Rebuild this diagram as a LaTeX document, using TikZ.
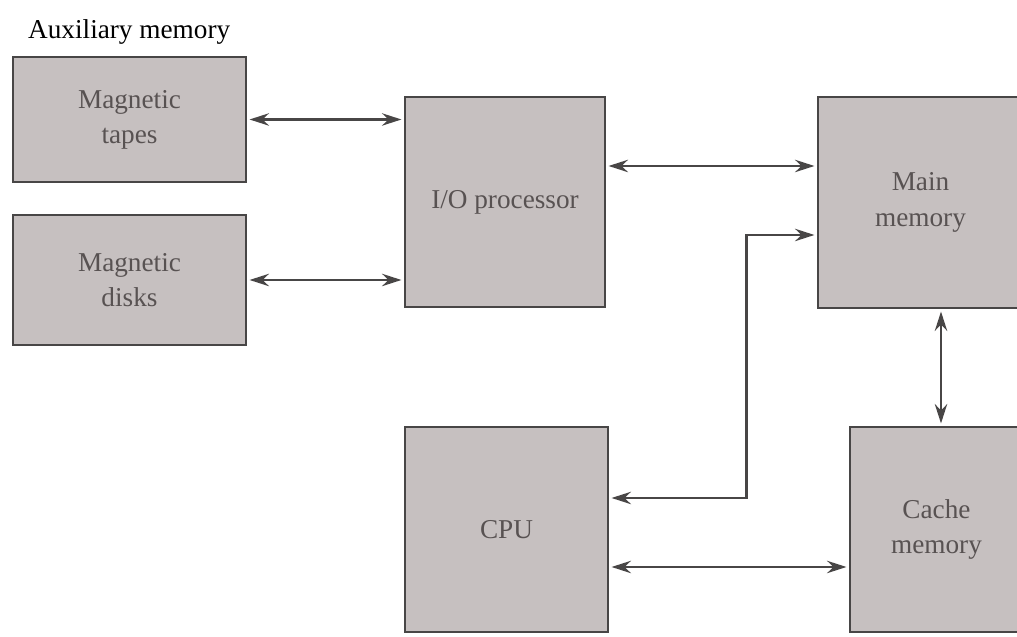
\documentclass[tikz,border=0pt]{standalone}
\usepackage{fontspec}
\setmainfont{Liberation Serif}
\usetikzlibrary{arrows.meta}
\definecolor{boxfill}{RGB}{198,192,192}
\definecolor{boxline}{RGB}{72,70,70}
\definecolor{boxtext}{RGB}{88,82,82}
\begin{document}
\begin{tikzpicture}[every node/.style={font=\fontsize{15.5}{20}\selectfont}, >={Stealth[length=11pt, width=7pt]},
  unit/.style={draw=boxline, fill=boxfill, line width=1.4pt, text=boxtext, align=center, outer sep=2pt},
  link/.style={<->, draw=boxline, line width=1.5pt}]
  \useasboundingbox (0,0) rectangle (20.34,12.74);

  \node[anchor=west] (aux) at (0.44,12.1) {Auxiliary memory};

  \node[unit, minimum width=4.66cm, minimum height=2.5cm] (tapes)
    at (2.59,10.35) {Magnetic\\ tapes};
  \node[unit, minimum width=4.66cm, minimum height=2.6cm] (disks)
    at (2.59,7.14) {Magnetic\\ disks};

  \node[unit, minimum width=4cm, minimum height=4.2cm] (io)
    at (10.1,8.7) {I/O processor};
  \node[unit, minimum width=4.1cm, minimum height=4.22cm] (main)
    at (18.41,8.69) {Main\\ memory};

  \node[unit, minimum width=4.06cm, minimum height=4.1cm] (cpu)
    at (10.13,2.15) {CPU};
  \node[unit, minimum width=3.46cm, minimum height=4.1cm] (cache)
    at (18.73,2.15) {Cache\\ memory};

  \draw[link] (tapes.east) -- (tapes.east -| io.west);
  \draw[link] (disks.east) -- (disks.east -| io.west);
  \draw[link] ([yshift=0.72cm]io.east) -- ([yshift=0.72cm]io.east -| main.west);

  \draw[link] ([yshift=-0.65cm]main.west) -| ([xshift=2.7cm, yshift=0.63cm]cpu.east)
    -- ([yshift=0.63cm]cpu.east);
  \draw[link] ([xshift=0.41cm]main.south) -- ([xshift=0.41cm]main.south |- cache.north);
  \draw[link] ([yshift=-0.75cm]cpu.east) -- ([yshift=-0.75cm]cpu.east -| cache.west);
\end{tikzpicture}
\end{document}
